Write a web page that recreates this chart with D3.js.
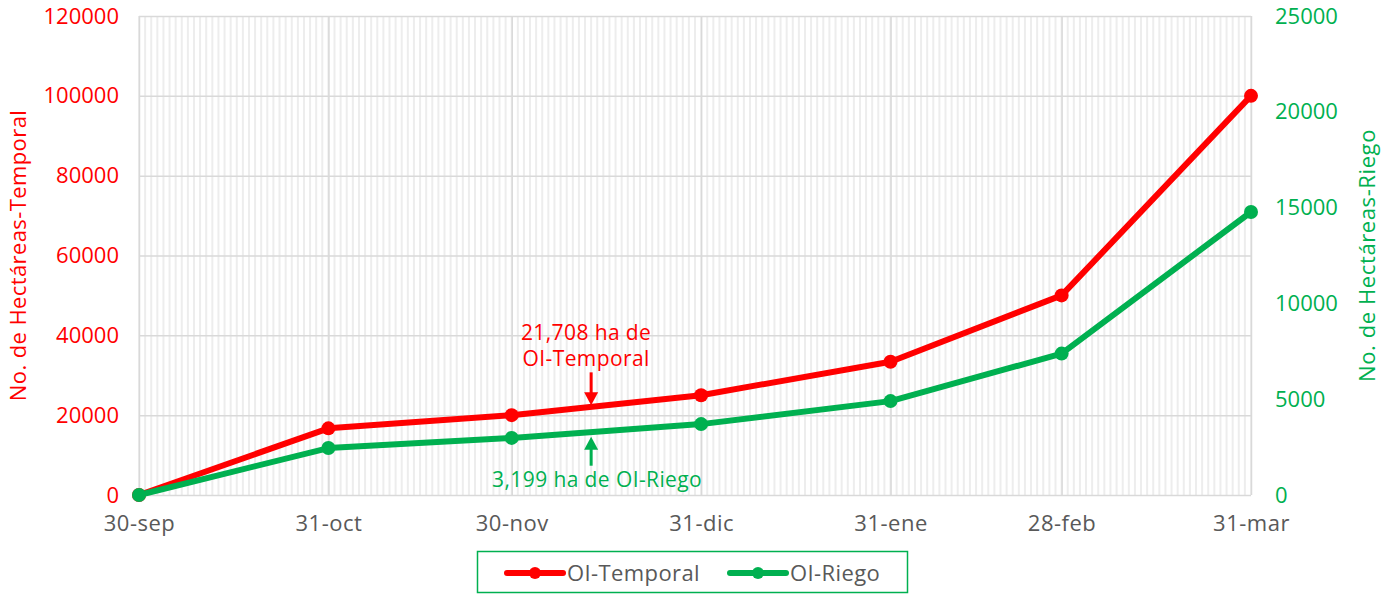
<!DOCTYPE html>
<html>
<head>
<meta charset="utf-8">
<script src="https://cdn.jsdelivr.net/npm/d3@7"></script>
<style>
body { margin: 0; background: #fff; }
text { font-family: "Open Sans", sans-serif; }
</style>
</head>
<body>
<svg></svg>
<script>
const width = 1386;
const height = 594;

// data
const dates = ['2018-09-30', '2018-10-31', '2018-11-30', '2018-12-31', '2019-01-31', '2019-02-28', '2019-03-31'];
const dateLabels = ['30-sep', '31-oct', '30-nov', '31-dic', '31-ene', '28-feb', '31-mar'];
const temporal = [0, 16700, 20000, 25000, 33400, 50000, 100000];
const riego = [0, 2450, 2980, 3700, 4900, 7380, 14770];
const leftTicks = [0, 20000, 40000, 60000, 80000, 100000, 120000];
const rightTicks = [0, 5000, 10000, 15000, 20000, 25000];
const noteDate = '2018-12-13';
const noteTemporal = 21708;
const noteRiego = 3199;

const red = '#ff0000';
const green = '#00b050';
const parse = d3.utcParse('%Y-%m-%d');

const plot = {left: 139, right: 1251, top: 16, bottom: 495};

const xScale = d3.scaleUtc()
    .domain([parse(dates[0]), parse(dates[dates.length - 1])])
    .range([plot.left, plot.right]);
const yLeft = d3.scaleLinear().domain([0, 120000]).range([plot.bottom, plot.top]);
const yRight = d3.scaleLinear().domain([0, 25000]).range([plot.bottom, plot.top]);

const svg = d3.select('svg')
    .attr('width', width)
    .attr('height', height);

// daily minor grid
const days = d3.utcDay.range(parse(dates[0]), d3.utcDay.offset(parse(dates[dates.length - 1]), 1));
svg.append('g')
    .selectAll('line')
    .data(days)
    .enter()
    .append('line')
        .attr('x1', d => xScale(d))
        .attr('x2', d => xScale(d))
        .attr('y1', plot.top)
        .attr('y2', plot.bottom)
        .attr('stroke', '#ededed')
        .attr('stroke-width', 2);

// horizontal grid
svg.append('g')
    .attr('transform', `translate(${plot.left}, 0)`)
    .call(d3.axisLeft(yLeft).tickValues(leftTicks).tickSize(-(plot.right - plot.left)).tickFormat(''))
    .call(g => g.select('.domain').remove())
    .call(g => g.selectAll('line').attr('stroke', '#d9d9d9').attr('stroke-width', 1.5));

// major vertical grid
svg.append('g')
    .attr('transform', `translate(0, ${plot.bottom})`)
    .call(d3.axisBottom(xScale).tickValues(dates.map(parse)).tickSize(-(plot.bottom - plot.top)).tickFormat(''))
    .call(g => g.select('.domain').remove())
    .call(g => g.selectAll('line').attr('stroke', '#d9d9d9').attr('stroke-width', 1.5));

// x axis labels
svg.append('g')
    .attr('transform', `translate(0, ${plot.bottom})`)
    .call(d3.axisBottom(xScale).tickValues(dates.map(parse)).tickSize(0).tickPadding(20)
        .tickFormat((d, i) => dateLabels[i]))
    .call(g => g.select('.domain').remove())
    .call(g => g.selectAll('text')
        .attr('fill', '#595959')
        .style('font-size', '22px')
        .style('letter-spacing', '0.5px')
        .style('font-family', '"Open Sans", sans-serif'));

// left axis
svg.append('g')
    .attr('transform', `translate(${plot.left - 20}, 0)`)
    .call(d3.axisLeft(yLeft).tickValues(leftTicks).tickSize(0).tickPadding(0).tickFormat(d3.format('d')))
    .call(g => g.select('.domain').remove())
    .call(g => g.selectAll('text')
        .attr('fill', red)
        .style('font-size', '22px')
        .style('font-family', '"Open Sans", sans-serif'));

// right axis
svg.append('g')
    .attr('transform', `translate(${plot.right + 24}, 0)`)
    .call(d3.axisRight(yRight).tickValues(rightTicks).tickSize(0).tickPadding(0).tickFormat(d3.format('d')))
    .call(g => g.select('.domain').remove())
    .call(g => g.selectAll('text')
        .attr('fill', green)
        .style('font-size', '22px')
        .style('font-family', '"Open Sans", sans-serif'));

// axis titles
svg.append('text')
    .attr('transform', 'rotate(-90)')
    .attr('x', -(plot.top + plot.bottom) / 2)
    .attr('y', 18)
    .attr('dy', '0.35em')
    .style('text-anchor', 'middle')
    .style('font-size', '22px')
    .style('letter-spacing', '0.4px')
    .attr('fill', red)
    .text('No. de Hectáreas-Temporal');

svg.append('text')
    .attr('transform', 'rotate(-90)')
    .attr('x', -(plot.top + plot.bottom) / 2)
    .attr('y', 1367)
    .attr('dy', '0.35em')
    .style('text-anchor', 'middle')
    .style('font-size', '22px')
    .style('letter-spacing', '0.6px')
    .attr('fill', green)
    .text('No. de Hectáreas-Riego');

// series (red first so green sits on top, as in the original)
const series = [
    {name: 'OI-Temporal', values: temporal, y: yLeft, color: red},
    {name: 'OI-Riego', values: riego, y: yRight, color: green}
];

series.forEach(s => {
    const pts = dates.map((d, i) => ({date: parse(d), value: s.values[i]}));
    const line = d3.line()
        .x(d => xScale(d.date))
        .y(d => s.y(d.value));
    svg.append('path')
        .datum(pts)
        .attr('d', line)
        .attr('fill', 'none')
        .attr('stroke', s.color)
        .attr('stroke-width', 6)
        .attr('stroke-linejoin', 'round');
    svg.append('g')
        .selectAll('circle')
        .data(pts)
        .enter()
        .append('circle')
            .attr('cx', d => xScale(d.date))
            .attr('cy', d => s.y(d.value))
            .attr('r', 7)
            .attr('fill', s.color);
});

// annotations
const fmt = d3.format(',');
const nx = xScale(parse(noteDate));

function arrow(x, yTip, yTail, color) {
    const dir = yTail > yTip ? 1 : -1;
    svg.append('line')
        .attr('x1', x).attr('x2', x)
        .attr('y1', yTail).attr('y2', yTip + dir * 10)
        .attr('stroke', color)
        .attr('stroke-width', 3);
    svg.append('path')
        .attr('d', `M${x},${yTip} L${x - 7},${yTip + dir * 13} L${x + 7},${yTip + dir * 13} Z`)
        .attr('fill', color);
}

const redTip = yLeft(noteTemporal) - 3;
arrow(nx, redTip, redTip - 33, red);
svg.append('text')
    .attr('x', nx - 5)
    .attr('y', redTip - 65)
    .style('text-anchor', 'middle')
    .style('font-size', '21px')
    .style('letter-spacing', '0.4px')
    .attr('fill', red)
    .text(`${fmt(noteTemporal)} ha de`);
svg.append('text')
    .attr('x', nx - 5)
    .attr('y', redTip - 39)
    .style('text-anchor', 'middle')
    .style('font-size', '21px')
    .style('letter-spacing', '0.4px')
    .attr('fill', red)
    .text('OI-Temporal');

const greenTip = yRight(noteRiego) + 3;
arrow(nx, greenTip, greenTip + 29, green);
svg.append('text')
    .attr('x', nx + 6)
    .attr('y', greenTip + 50)
    .style('text-anchor', 'middle')
    .style('font-size', '21px')
    .style('letter-spacing', '0.4px')
    .attr('fill', green)
    .text(`${fmt(noteRiego)} ha de OI-Riego`);

// legend
const legend = svg.append('g');
legend.append('rect')
    .attr('x', 477.5)
    .attr('y', 551.5)
    .attr('width', 430)
    .attr('height', 41)
    .attr('fill', '#fff')
    .attr('stroke', green)
    .attr('stroke-width', 1.5);

const legendX = [507, 730];
series.forEach((s, i) => {
    const g = legend.append('g').attr('transform', `translate(${legendX[i]}, 573)`);
    g.append('line')
        .attr('x1', 0).attr('x2', 56)
        .attr('stroke', s.color)
        .attr('stroke-width', 6)
        .attr('stroke-linecap', 'round');
    g.append('circle')
        .attr('cx', 28)
        .attr('r', 6)
        .attr('fill', s.color);
    g.append('text')
        .attr('x', 60)
        .attr('dy', '0.35em')
        .style('font-size', '22px')
        .style('letter-spacing', '0.4px')
        .attr('fill', '#595959')
        .text(s.name);
});
</script>
</body>
</html>
